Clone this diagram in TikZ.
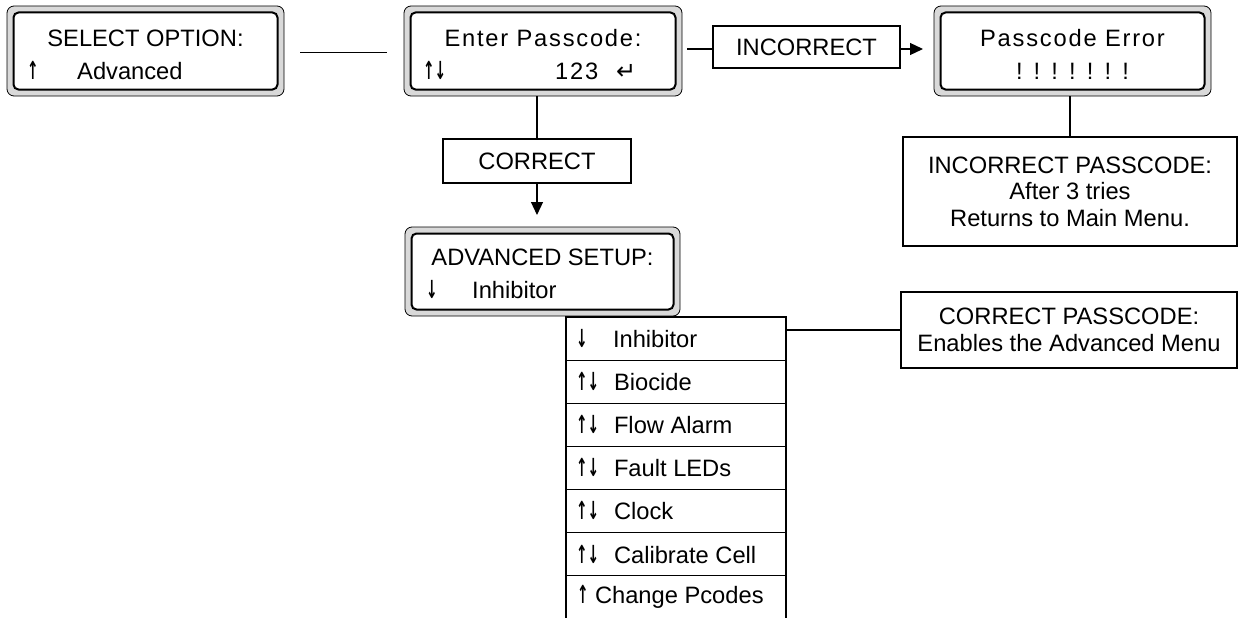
\documentclass[tikz,border=0pt]{standalone}
\usepackage{fontspec}
\setmainfont{Liberation Sans}
\newfontfamily\lcdspaced[LetterSpace=7.5]{Liberation Sans}
\newfontfamily\symfont{DejaVu Sans}
\usetikzlibrary{arrows.meta,calc}

\newcommand\dfont{\fontsize{23.7pt}{26.5pt}\selectfont}
% scroll arrows: narrow, heavy glyphs
\newcommand\upar{\scalebox{0.58}[1.05]{\symfont\bfseries ↑}}
\newcommand\dnar{\scalebox{0.58}[1.05]{\symfont\bfseries ↓}}

\tikzset{
  lcd/.style={draw=black, line width=0.8pt, fill=gray!30, rounded corners=7pt,
    minimum height=90pt, inner sep=0pt, outer sep=0pt},
  lcdin/.style={draw=black, line width=2pt, fill=white, rounded corners=5pt},
  lcdtext/.style={inner sep=0pt, font=\dfont},
  tag/.style={draw=black, line width=1.2pt, fill=white, inner sep=0pt,
    outer sep=0pt, font=\dfont, align=center},
  menurow/.style={draw=black, line width=1.2pt, minimum width=220pt,
    minimum height=43.1pt, inner sep=0pt, outer sep=0pt, anchor=north west,
    font=\dfont},
  conn/.style={draw=black, line width=1.2pt},
  tip/.style={-{Triangle[length=13pt,width=12pt]}}
}

% inner display window of an LCD panel
\newcommand\lcdwindow[1]{%
  \draw[lcdin] ($(#1.north west)+(6.5,6.5)$) rectangle ($(#1.south east)+(-6.5,-6.5)$);}

\begin{document}
\begin{tikzpicture}[x=1pt, y=-1pt]
\useasboundingbox (0,0) rectangle (1242,618);

% LCD panels
\node[lcd, minimum width=277pt] (sel) at (145.5,51) {};
\lcdwindow{sel}
\node[lcd, minimum width=278pt] (pass) at (543,51) {};
\lcdwindow{pass}
\node[lcd, minimum width=277pt] (err) at (1072.5,51) {};
\lcdwindow{err}
\node[lcd, minimum width=275pt, minimum height=89pt] (adv) at (542.5,271.5) {};
\lcdwindow{adv}

% panel texts
\node[lcdtext, anchor=base] at ($(sel.north)+(0,41)$) {SELECT OPTION:};
\node[lcdtext, anchor=base west] at ($(sel.north west)+(20,74)$) {\upar};
\node[lcdtext, anchor=base west] at ($(sel.north west)+(70,74)$) {Advanced};

\node[lcdtext, anchor=base] at ($(pass.north)+(0,41)$) {\lcdspaced Enter Passcode:};
\node[lcdtext, anchor=base west] at ($(pass.north west)+(19,74)$) {\upar\dnar};
\node[lcdtext, anchor=base west] at ($(pass.north west)+(151,74)$) {\lcdspaced 123};
\node[lcdtext, anchor=base west] at ($(pass.north west)+(212,73)$) {\fontsize{24pt}{26pt}\symfont ↵};

\node[lcdtext, anchor=base] at ($(err.north)+(0,41)$) {\lcdspaced Passcode Error};
\node[lcdtext, anchor=base] at ($(err.north)+(0,73)$) {\lcdspaced ! ! ! ! ! ! !};

\node[lcdtext, anchor=base] at ($(adv.north)+(0,38)$) {ADVANCED SETUP:};
\node[lcdtext, anchor=base west] at ($(adv.north west)+(21,71)$) {\dnar};
\node[lcdtext, anchor=base west] at ($(adv.north west)+(67,71)$) {Inhibitor};

% condition and note boxes
\node[tag, minimum width=187pt, minimum height=42pt] (inc) at (806.5,47) {INCORRECT};
\node[tag, minimum width=188pt, minimum height=44pt] (cor) at (537,161) {CORRECT};
\node[tag, minimum width=334pt, minimum height=109pt] (ipc) at (1070,191.5)
  {INCORRECT PASSCODE:\\After 3 tries\\Returns to Main Menu.};
\node[tag, minimum width=336pt, minimum height=76pt] (cpc) at (1069,330)
  {CORRECT PASSCODE:\\Enables the Advanced Menu};

% advanced menu list
\node[menurow] (r1) at (566,317.0) {\hbox to 220pt{\hspace{10pt}\makebox[37pt][l]{\dnar}Inhibitor\hfil}};
\node[menurow] (r2) at (566,360.1) {\hbox to 220pt{\hspace{10pt}\makebox[38pt][l]{\upar\dnar}Biocide\hfil}};
\node[menurow] (r3) at (566,403.2) {\hbox to 220pt{\hspace{10pt}\makebox[38pt][l]{\upar\dnar}Flow Alarm\hfil}};
\node[menurow] (r4) at (566,446.3) {\hbox to 220pt{\hspace{10pt}\makebox[38pt][l]{\upar\dnar}Fault LEDs\hfil}};
\node[menurow] (r5) at (566,489.4) {\hbox to 220pt{\hspace{10pt}\makebox[38pt][l]{\upar\dnar}Clock\hfil}};
\node[menurow] (r6) at (566,532.5) {\hbox to 220pt{\hspace{10pt}\makebox[38pt][l]{\upar\dnar}Calibrate Cell\hfil}};
\node[menurow] (r7) at (566,575.6) {\hbox to 220pt{\hspace{11pt}\makebox[18pt][l]{\upar}Change Pcodes\hfil}};

% connectors
\draw[conn] ($(sel.east)+(16,1.5)$) -- ($(pass.west)+(-17,1.5)$);
\draw[conn] ($(pass.east |- inc.west)+(5,2)$) -- ($(inc.west)+(0,2)$);
\draw[conn, tip, shorten >=11pt] ($(inc.east)+(0,2)$) -- ($(inc.east -| err.west)+(0,2)$);
\draw[conn] (cor.north |- pass.south) -- (cor.north);
\draw[conn, tip, shorten >=12pt] (cor.south) -- (cor.south |- adv.north);
\draw[conn] (ipc.north |- err.south) -- (ipc.north);
\draw[conn] (r1.east |- cpc.west) -- (cpc.west);
\end{tikzpicture}
\end{document}
